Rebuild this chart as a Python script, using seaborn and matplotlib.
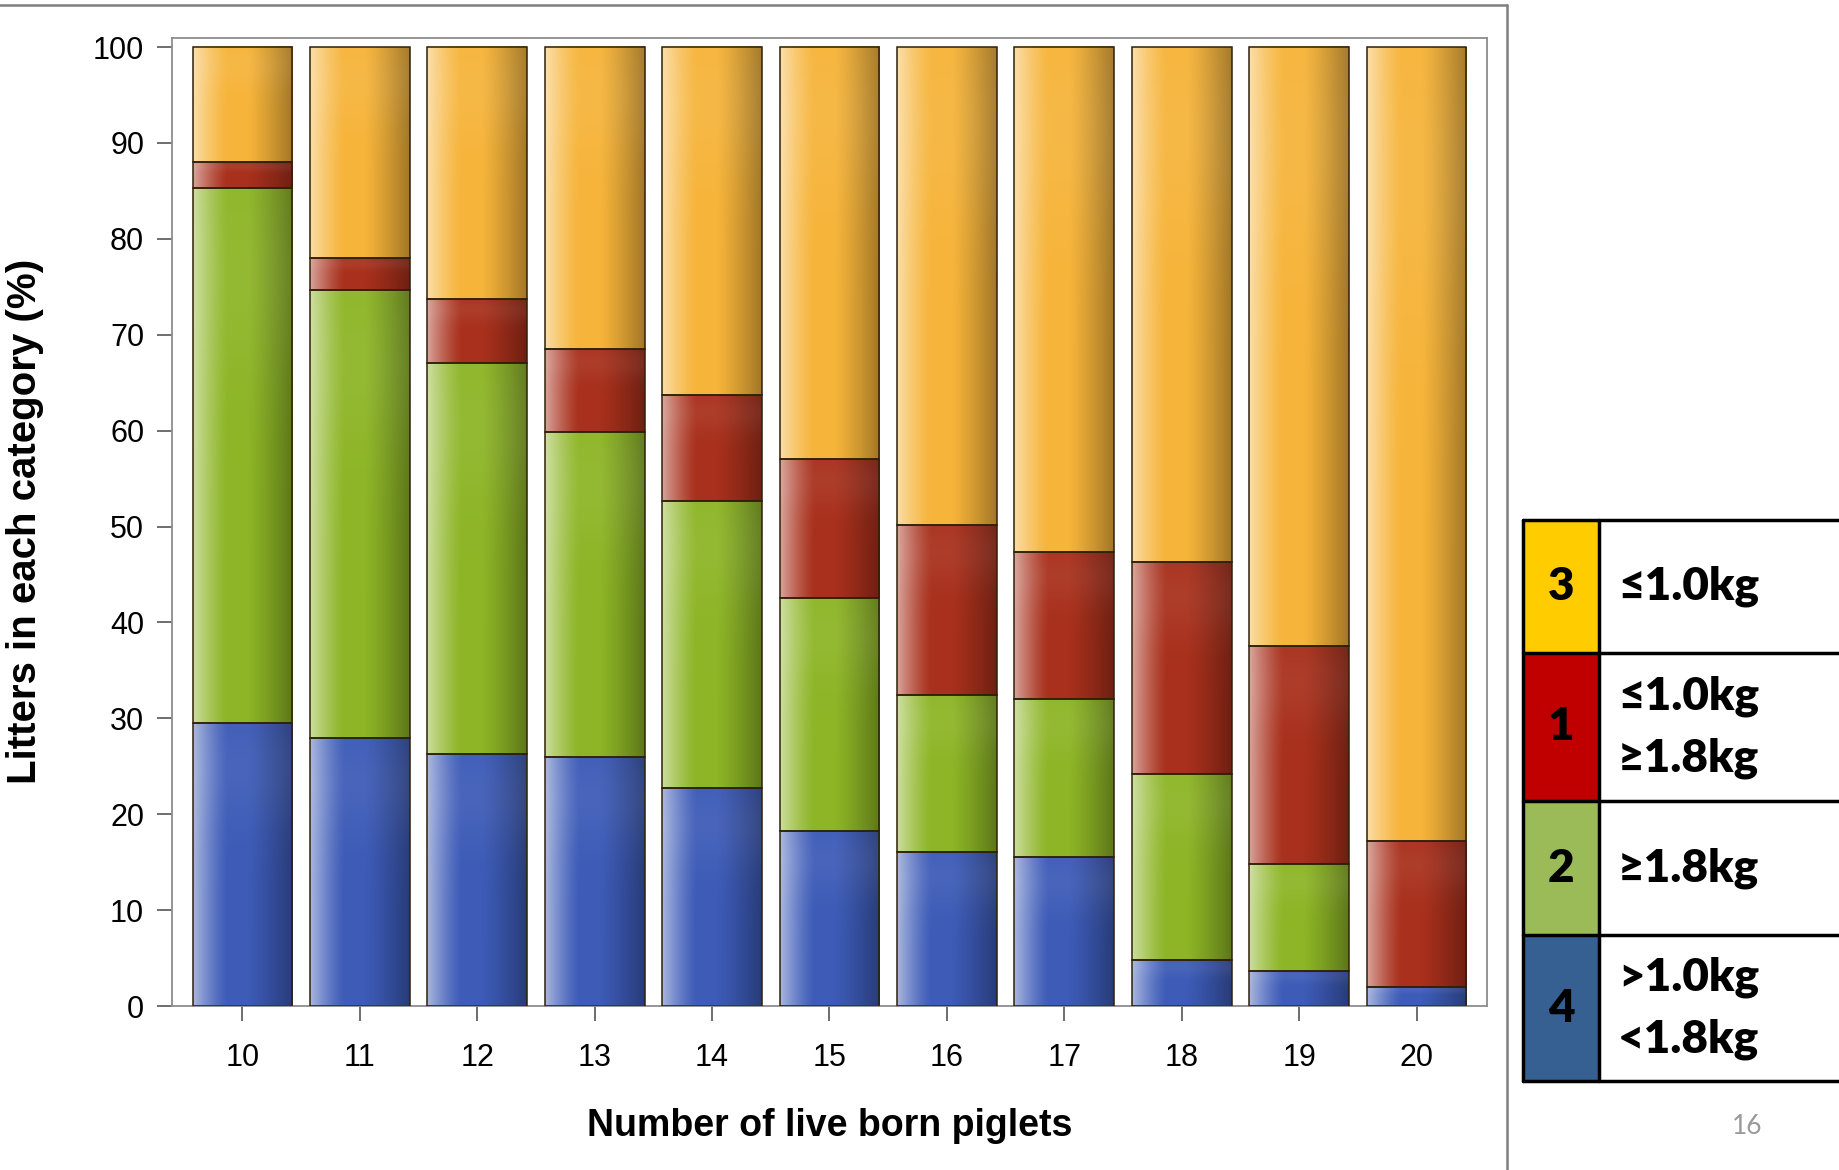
import numpy as np
import pandas as pd
import matplotlib
matplotlib.use("Agg")
import matplotlib.pyplot as plt
from matplotlib.colors import to_rgb
from matplotlib.patches import Rectangle
from matplotlib.lines import Line2D
import seaborn as sns

# ---- data: share of litters (%) in each birth-weight category ----
litter_sizes = ["10", "11", "12", "13", "14", "15", "16", "17", "18", "19", "20"]
cat4_mid = [29.5, 27.9, 26.3, 26.0, 22.7, 18.2, 16.1, 15.5, 4.8, 3.7, 2.0]
cat2_heavy = [55.8, 46.8, 40.8, 33.9, 30.0, 24.3, 16.3, 16.5, 19.4, 11.1, 0.0]
cat1_mixed = [2.7, 3.3, 6.6, 8.6, 11.0, 14.5, 17.8, 15.3, 22.1, 22.7, 15.2]
cat3_light = [12.0, 22.0, 26.3, 31.5, 36.3, 43.0, 49.8, 52.7, 53.7, 62.5, 82.8]

y_ticks = list(range(0, 101, 10))

legend_codes = ["3", "1", "2", "4"]
legend_texts = [["≤1.0kg"], ["≤1.0kg", "≥1.8kg"], ["≥1.8kg"], [">1.0kg", "<1.8kg"]]
legend_colors = ["#FFCC00", "#C00000", "#9BBB59", "#366092"]

# bar colours, bottom to top
layers = [
    ("4", cat4_mid, "#3D5BB7"),
    ("2", cat2_heavy, "#8DB526"),
    ("1", cat1_mixed, "#A8301C"),
    ("3", cat3_light, "#F6B43A"),
]

sns.set_style("white")
plt.rcParams["font.family"] = ["Liberation Sans", "DejaVu Sans"]

W, H = 1839, 1170
fig = plt.figure(figsize=(W / 100, H / 100), dpi=100)
fig.patch.set_facecolor("white")

ax_l, ax_r, ax_t, ax_b = 172, 1487, 37.5, 1006
ax = fig.add_axes([ax_l / W, 1 - ax_b / H, (ax_r - ax_l) / W, (ax_b - ax_t) / H])


def shade(base, nx=96, ny=24):
    """Gloss gradient: light left edge, saturated middle, dark right edge,
    with a faint lighter band toward the top of each segment."""
    c = np.array(to_rgb(base))
    t = np.linspace(0, 1, nx)
    rows = []
    for v in t:
        if v < 0.35:
            w = 0.55 * (1 - v / 0.35) ** 1.3
            col = c * (1 - w) + w
        elif v < 0.55:
            col = c
        else:
            k = 1 - 0.34 * ((v - 0.55) / 0.45) ** 1.2
            col = c * k
        rows.append(col)
    row = np.array(rows)
    s = np.linspace(0, 1, ny)[:, None, None]  # 0 = top, 1 = bottom
    lift = 0.06 * np.exp(-((s - 0.15) / 0.2) ** 2)
    grad = row[None, :, :] * (1 - lift) + lift
    return np.clip(grad, 0, 1)


bottoms = np.zeros(len(litter_sizes))
for code, vals, color in layers:
    vals = np.asarray(vals, dtype=float)
    tops = bottoms + vals
    df = pd.DataFrame({"size": litter_sizes, "top": tops})
    n_before = len(ax.patches)
    sns.barplot(data=df, x="size", y="top", color=color, width=0.85,
                ax=ax, saturation=1, edgecolor="#2e2008", linewidth=1.1)
    new = ax.patches[n_before:]
    for p, b, v in zip(new, bottoms, vals):
        p.set_y(b)
        p.set_height(v)
        if v <= 0:
            p.set_visible(False)
            continue
        x0 = p.get_x()
        x1 = x0 + p.get_width()
        ax.imshow(shade(color), extent=(x0, x1, b, b + v), aspect="auto",
                  interpolation="bilinear", zorder=2)
        p.set_facecolor("none")
        p.set_zorder(3)
    bottoms = tops

ax.set_xlim(-0.6, 10.6)
ax.set_ylim(0, 101)
ax.set_yticks(y_ticks)
ax.set_yticklabels([str(v) for v in y_ticks])

for s in ax.spines.values():
    s.set_color("#8c8c8c")
    s.set_linewidth(1.3)
ax.tick_params(axis="both", which="major", direction="out", length=11,
               width=1.2, color="#555555", labelsize=22, labelcolor="black",
               left=True, bottom=True)
ax.tick_params(axis="y", pad=9)
ax.tick_params(axis="x", pad=16)

ax.set_xlabel("Number of live born piglets", fontsize=27, fontweight="bold",
              color="black")
ax.set_ylabel("Litters in each category (%)", fontsize=29, fontweight="bold",
              color="black")
ax.xaxis.set_label_coords(0.5, -0.105)
ax.yaxis.set_label_coords(-0.097, 0.5)

# ---- overlay in pixel coordinates for the category key and slide frame ----
ov = fig.add_axes([0, 0, 1, 1])
ov.set_xlim(0, W)
ov.set_ylim(H, 0)
ov.axis("off")
ov.patch.set_visible(False)

# slide frame
ov.add_line(Line2D([0, 1507], [5, 5], color="#7f7f7f", lw=1.8))
ov.add_line(Line2D([1507, 1507], [5, H], color="#7f7f7f", lw=1.8))

key_font = ["Lato", "DejaVu Sans"]
row_edges = [520, 653, 801, 935, 1081]
kx0, kx1, kx2 = 1523, 1599, 1850
for i, (code, lines, col) in enumerate(zip(legend_codes, legend_texts, legend_colors)):
    y0, y1 = row_edges[i], row_edges[i + 1]
    ov.add_patch(Rectangle((kx0, y0), kx1 - kx0, y1 - y0, facecolor=col,
                           edgecolor="none"))
    ym = (y0 + y1) / 2
    ov.text((kx0 + kx1) / 2, ym, code, ha="center", va="center",
            fontsize=33, fontweight="heavy", color="black", family=key_font)
    if len(lines) == 1:
        ys = [ym]
    else:
        ys = [ym - 31, ym + 31]
    for ty, txt in zip(ys, lines):
        ov.text(1618, ty, txt, ha="left", va="center", fontsize=33,
                fontweight="heavy", color="black", family=key_font)
# grid lines of the key
for y in row_edges:
    ov.add_line(Line2D([kx0, kx2], [y, y], color="black", lw=2.5))
for x in (kx0, kx1):
    ov.add_line(Line2D([x, x], [row_edges[0], row_edges[-1]], color="black", lw=2.5))

# page number
ov.text(1747, 1127, "16", ha="center", va="center", fontsize=19,
        color="#9a9a9a", family=key_font)

fig.savefig("out.png", dpi=100)
